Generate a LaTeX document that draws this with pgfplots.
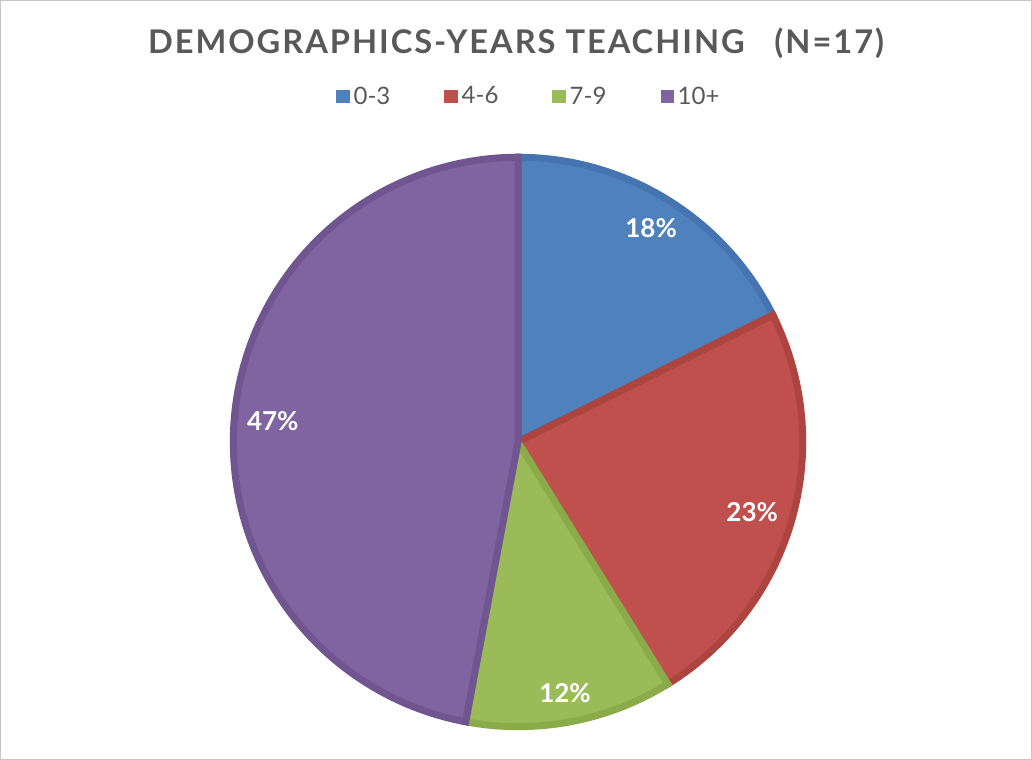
\documentclass[border=0pt]{standalone}
\usepackage{fontspec}
\setmainfont{Lato}
\newfontfamily\titlefont[LetterSpace=6]{Lato}
\usepackage{pgfplots}
\pgfplotsset{compat=1.18}
\usepgfplotslibrary{polar}
\definecolor{titlegray}{HTML}{595959}
\definecolor{sA}{HTML}{4F81BD}\definecolor{sAe}{HTML}{4574B0}
\definecolor{sB}{HTML}{C0504D}\definecolor{sBe}{HTML}{AD4440}
\definecolor{sC}{HTML}{9BBB59}\definecolor{sCe}{HTML}{8BAB4A}
\definecolor{sD}{HTML}{8064A2}\definecolor{sDe}{HTML}{715591}
\begin{document}
\begin{tikzpicture}[x=0.5pt,y=-0.5pt]
% frame
\draw[gray!45, line width=0.6pt] (1,1) rectangle (1031,759);
\node[font=\titlefont\bfseries\fontsize{16.3}{18}\selectfont, text=titlegray] at (516,44)
  {DEMOGRAPHICS-YEARS TEACHING\ \ \ (N=17)};
% counts 3, 4, 2, 8 of N=17 -> slice angles, clockwise from the top
\begin{polaraxis}[
  at={(259pt,-221pt)}, anchor=center,
  width=284.5pt, height=284.5pt, scale only axis,
  ymin=0, ymax=1, hide axis, clip=false,
  legend columns=4,
  legend style={at={(0.521,1.106)}, anchor=center, draw=none, fill=none,
    font=\fontsize{12}{14}\selectfont, text=titlegray,
    /tikz/every even column/.append style={column sep=25pt}},
  legend image code/.code={\fill[#1,draw=none] (0pt,-3.3pt) rectangle (6.6pt,3.3pt);},
]
\addplot[fill=sA, draw=sAe, line width=3.5pt, domain=26.47:90, samples=60] {1} -- (axis cs:0,0) -- cycle;
\addplot[fill=sB, draw=sBe, line width=3.5pt, domain=-58.24:26.47, samples=60] {1} -- (axis cs:0,0) -- cycle;
\addplot[fill=sC, draw=sCe, line width=3.5pt, domain=-100.59:-58.24, samples=40] {1} -- (axis cs:0,0) -- cycle;
\addplot[fill=sD, draw=sDe, line width=3.5pt, domain=90:259.41, samples=120] {1} -- (axis cs:0,0) -- cycle;
\legend{0-3,4-6,7-9,10+}
\end{polaraxis}
\begin{scope}[every node/.style={text=white, font=\bfseries\fontsize{13}{15}\selectfont}]
\node at (651,228) {18\%};
\node at (752,512) {23\%};
\node at (565,693) {12\%};
\node at (273,421) {47\%};
\end{scope}
\end{tikzpicture}
\end{document}
